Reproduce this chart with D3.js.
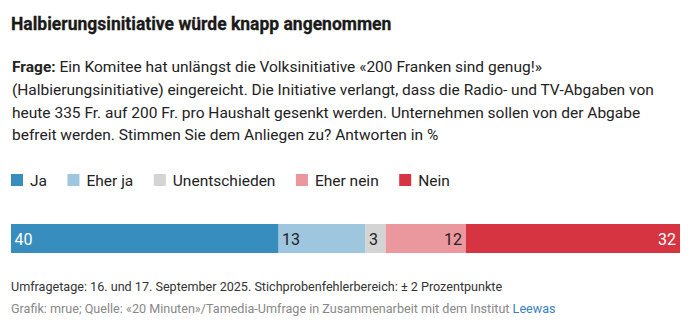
<!DOCTYPE html>
<html>
<head>
<meta charset="utf-8">
<script src="https://cdn.jsdelivr.net/npm/d3@7"></script>
<style>
  body { margin: 0; background: #fff; }
  svg { font-family: Roboto, "Noto Sans", sans-serif; display: block; }
</style>
</head>
<body>
<svg width="692" height="325"></svg>
<script>
// answer categories and shares in percent
var categories = ["Ja", "Eher ja", "Unentschieden", "Eher nein", "Nein"];
var values = [40, 13, 3, 12, 32];
var colors = ["#378dbd", "#9fc6df", "#d4d4d4", "#ea979e", "#d63441"];
var labelColors = ["#fff", "#222", "#222", "#222", "#fff"];
var labelAlign = ["start", "start", "start", "end", "end"];

var title = "Halbierungsinitiative würde knapp angenommen";
var question = [
  ["Frage:", " Ein Komitee hat unlängst die Volksinitiative «200 Franken sind genug!»"],
  ["", "(Halbierungsinitiative) eingereicht. Die Initiative verlangt, dass die Radio- und TV-Abgaben von"],
  ["", "heute 335 Fr. auf 200 Fr. pro Haushalt gesenkt werden. Unternehmen sollen von der Abgabe"],
  ["", "befreit werden. Stimmen Sie dem Anliegen zu? Antworten in %"]
];
var note = "Umfragetage: 16. und 17. September 2025. Stichprobenfehlerbereich: ± 2 Prozentpunkte";
var source = "Grafik: mrue; Quelle: «20 Minuten»/Tamedia-Umfrage in Zusammenarbeit mit dem Institut ";
var sourceLink = "Leewas";

var svg = d3.select("svg"),
    margin = {left: 11, right: 12};

svg.append("text")
    .attr("x", margin.left)
    .attr("y", 30)
    .attr("fill", "#1a1a1a")
    .style("font-size", "17.5px")
    .style("font-weight", "700")
    .style("stroke", "#1a1a1a")
    .style("stroke-width", "0.3px")
    .text(title);

var q = svg.append("g").style("font-size", "15.5px").attr("fill", "#222");
question.forEach(function(line, i) {
  var t = q.append("text").attr("x", margin.left + 1).attr("y", 72 + i * 22.8);
  if (line[0]) t.append("tspan").style("font-weight", "700").text(line[0]);
  t.append("tspan").text(line[1]);
});

// legend, laid out from measured label widths
var legend = svg.append("g").attr("transform", "translate(" + margin.left + ",174)");
var lx = 0;
categories.forEach(function(c, i) {
  var item = legend.append("g").attr("transform", "translate(" + lx + ",0)");
  item.append("rect").attr("width", 12).attr("height", 12).attr("fill", colors[i]);
  var t = item.append("text")
      .attr("x", 19)
      .attr("y", 11.5)
      .attr("fill", "#222")
      .style("font-size", "15.5px")
      .text(c);
  lx += 19 + t.node().getComputedTextLength() + 20.5;
});

// stacked bar
var width = 692 - margin.left - margin.right;
var x = d3.scaleLinear().domain([0, d3.sum(values)]).range([margin.left, margin.left + width]);
var stack = [];
values.reduce(function(acc, v, i) {
  stack.push({cat: categories[i], v: v, x0: acc, x1: acc + v, i: i});
  return acc + v;
}, 0);

var barTop = 224, barH = 29;
var seg = svg.append("g").selectAll("g").data(stack).join("g");
seg.append("rect")
    .attr("x", function(d) { return x(d.x0); })
    .attr("y", barTop)
    .attr("width", function(d) { return x(d.x1) - x(d.x0); })
    .attr("height", barH)
    .attr("fill", function(d) { return colors[d.i]; });
seg.append("text")
    .attr("x", function(d) { return labelAlign[d.i] == "start" ? x(d.x0) + 3.5 : x(d.x1) - 4; })
    .attr("y", barTop + 20.5)
    .attr("text-anchor", function(d) { return labelAlign[d.i]; })
    .attr("fill", function(d) { return labelColors[d.i]; })
    .style("font-size", "16px")
    .text(function(d) { return d.v; });

svg.append("text")
    .attr("x", margin.left)
    .attr("y", 291)
    .attr("fill", "#333")
    .style("font-size", "12.6px")
    .text(note);

var src = svg.append("text")
    .attr("x", margin.left)
    .attr("y", 313)
    .attr("fill", "#888")
    .style("font-size", "12.6px");
src.append("tspan").text(source);
src.append("tspan").attr("fill", "#3a7fbf").text(sourceLink);
</script>
</body>
</html>
